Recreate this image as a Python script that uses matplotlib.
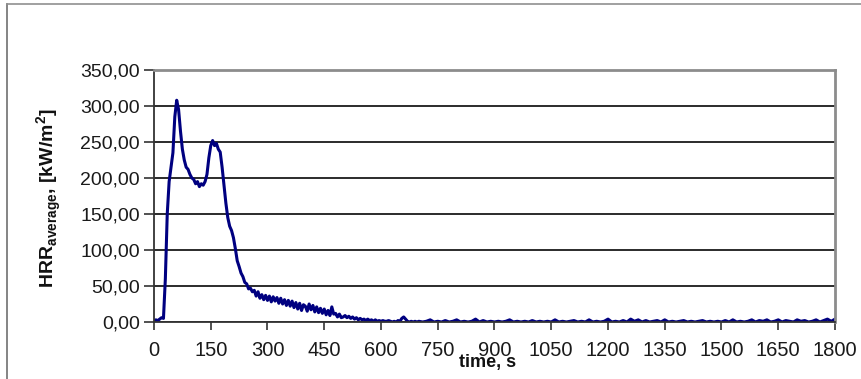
import numpy as np
import matplotlib
matplotlib.use("Agg")
import matplotlib.pyplot as plt
from matplotlib.lines import Line2D
from matplotlib.ticker import FuncFormatter

plt.rcParams['font.family'] = ['Liberation Sans', 'DejaVu Sans']
plt.rcParams['mathtext.fontset'] = 'custom'
plt.rcParams['mathtext.rm'] = 'Liberation Sans'
plt.rcParams['mathtext.bf'] = 'Liberation Sans:bold'

# ---- data ----
# first part: every 5 s from 0 to 700 s
hrr_early = [
    2, 3, 2, 4, 6, 5, 60, 150, 195, 215, 235, 285, 308, 295, 265, 240, 225, 215, 212, 205,
    200, 198, 192, 195, 188, 192, 190, 195, 205, 228, 245, 252, 245, 248, 240, 236, 215, 190, 165, 145,
    133, 127, 117, 102, 85, 77, 68, 63, 55, 53, 46, 47, 42, 44, 36, 42, 33, 38, 31, 37,
    30, 36, 28, 35, 29, 34, 26, 33, 25, 31, 23, 30, 22, 29, 20, 27, 18, 26, 16, 24,
    22, 15, 25, 17, 23, 14, 21, 13, 19, 12, 18, 10, 16, 9, 21, 11, 12, 7, 11, 6,
    7, 9, 6, 8, 5, 7, 4, 6, 3, 5, 3, 4, 2, 4, 2, 3, 1, 3, 1, 2,
    1, 2, 1, 1, 2, 1, 0, 1, 0, 2, 1, 5, 7, 4, 1, 0, 1, 0, 1, 0,
    1,
]
# second part: every 10 s from 710 to 1800 s
hrr_late = [
    0, 1, 3, 0, 1, 0, 2, 0, 1, 3, 0, 1, 0, 1, 4, 0, 2, 0, 1, 0,
    1, 0, 1, 3, 0, 1, 0, 1, 0, 2, 0, 1, 0, 1, 0, 3, 0, 1, 0, 1,
    2, 0, 1, 0, 3, 0, 1, 0, 1, 4, 0, 1, 0, 2, 0, 4, 1, 3, 0, 2,
    0, 1, 2, 0, 3, 0, 1, 0, 1, 2, 0, 1, 0, 1, 2, 0, 1, 0, 1, 0,
    2, 0, 3, 0, 1, 0, 1, 3, 0, 2, 1, 3, 0, 1, 3, 0, 2, 1, 0, 3,
    1, 2, 0, 1, 3, 0, 2, 4, 1, 4,
]
t_early = np.arange(0, 705, 5)
t_late = np.arange(710, 1810, 10)
time_s = np.concatenate([t_early, t_late])
hrr = np.concatenate([hrr_early, hrr_late])

x_ticks = [0, 150, 300, 450, 600, 750, 900, 1050, 1200, 1350, 1500, 1650, 1800]
y_ticks = [0, 50, 100, 150, 200, 250, 300, 350]

# ---- figure ----
W, H = 862, 379
fig = plt.figure(figsize=(W / 100, H / 100), dpi=100)
fig.patch.set_facecolor('white')

# outer frame (top and left visible)
fig.add_artist(Line2D([7 / W, 7 / W], [0, 1 - 4 / H], transform=fig.transFigure,
                      color='#707070', lw=1.2))
fig.add_artist(Line2D([7 / W, 1], [1 - 4 / H, 1 - 4 / H], transform=fig.transFigure,
                      color='#909090', lw=1.2))

left, right, top, bottom = 154, 835, 70, 322
ax = fig.add_axes([left / W, 1 - bottom / H, (right - left) / W, (bottom - top) / H])

ax.plot(time_s, hrr, color='#000080', lw=2.2, solid_joinstyle='round')

ax.set_xlim(0, 1800)
ax.set_ylim(0, 350)
ax.set_xticks(x_ticks)
ax.set_yticks(y_ticks)
ax.yaxis.set_major_formatter(FuncFormatter(lambda v, p: f"{v:.2f}".replace('.', ',')))
ax.xaxis.set_major_formatter(FuncFormatter(lambda v, p: f"{int(v)}"))

ax.grid(axis='y', color='#1a1a1a', lw=1.3)
ax.set_axisbelow(True)

for s in ['top', 'right']:
    ax.spines[s].set_color('#8c8c8c')
    ax.spines[s].set_linewidth(2)
for s in ['left', 'bottom']:
    ax.spines[s].set_color('#333333')
    ax.spines[s].set_linewidth(1.3)

ax.tick_params(axis='x', direction='out', length=6, width=1.2, color='#333333',
               labelsize=14.5, labelcolor='#1a1a1a', pad=8)
ax.tick_params(axis='y', direction='out', length=7, width=1.2, color='#333333',
               labelsize=14, labelcolor='#1a1a1a', pad=3)

fig.text(488 / W, 1 - 362 / H, 'time, s', fontsize=13, fontweight='bold',
         ha='center', va='center', color='#111111')
fig.text(49 / W, 1 - 198 / H,
         r'HRR$_{\mathbf{average}}$, [kW/m$^{\mathbf{2}}$]',
         fontsize=14, fontweight='bold', rotation=90, ha='center', va='center',
         color='#111111')

fig.savefig('out.png', dpi=100, facecolor='white')
